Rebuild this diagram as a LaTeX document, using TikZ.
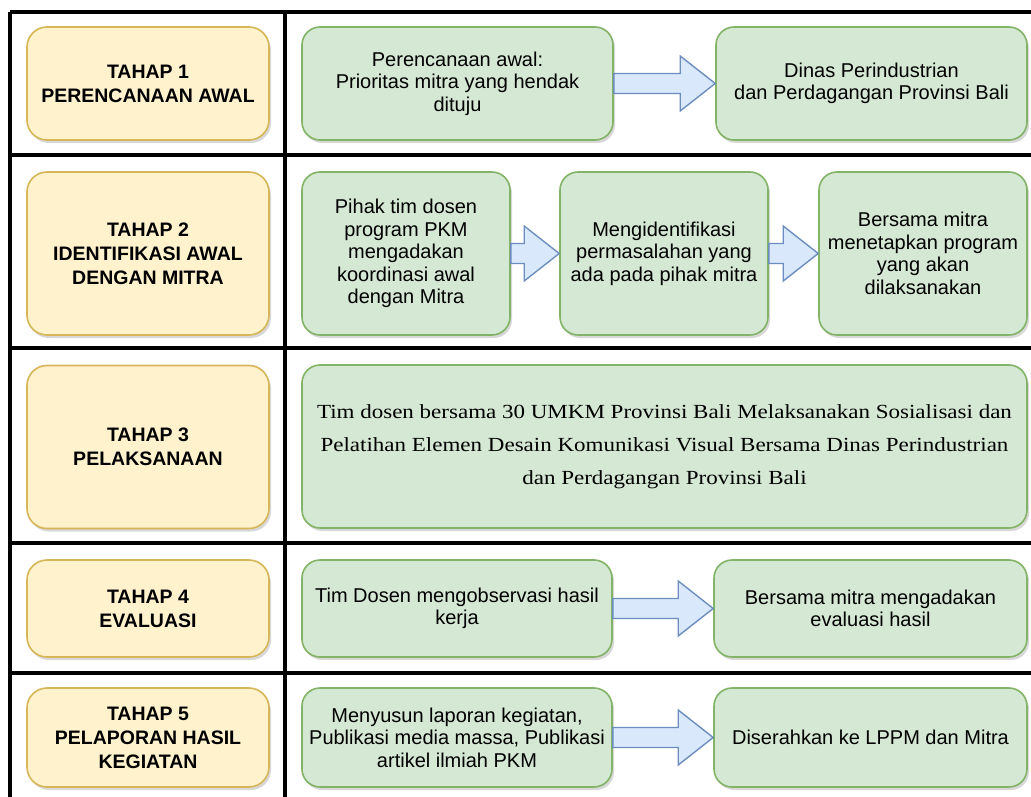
\documentclass[tikz,border=0pt]{standalone}
\usepackage{fontspec}
\setmainfont{Liberation Sans}
\newfontfamily\wideserif[FakeStretch=1.15]{Liberation Serif}
\usetikzlibrary{calc,shadows}
\definecolor{ylwfill}{HTML}{FFF2CC}
\definecolor{ylwline}{HTML}{D6B656}
\definecolor{grnfill}{HTML}{D5E8D4}
\definecolor{grnline}{HTML}{82B366}
\definecolor{blufill}{HTML}{DAE8FC}
\definecolor{bluline}{HTML}{6C8EBF}
\tikzset{
  grid/.style={line width=3.2pt, black},
  shad/.style={drop shadow={opacity=0.25, shadow xshift=2pt, shadow yshift=-3pt, fill=black!60}},
  stagebox/.style={rectangle, rounded corners=20pt, draw=ylwline, fill=ylwfill, line width=1.6pt,
     shad, align=center, font=\fontsize{19.5}{24}\selectfont\bfseries, inner sep=2pt},
  actbox/.style={rectangle, rounded corners=18pt, draw=grnline, fill=grnfill, line width=1.6pt,
     shad, align=center, font=\fontsize{20}{22.5}\selectfont, inner sep=2pt},
  bigarr/.style={draw=bluline, fill=blufill, line width=1.4pt, line join=miter},
}
% arrow from east of #1 to west of #2
\newcommand\fatarrow[2]{%
  \draw[bigarr] let \p1=(#1.east), \p2=(#2.west) in
    (\x1,\y1+10pt) -- (\x2-35pt,\y1+10pt) -- (\x2-35pt,\y1+27.5pt) -- (\x2,\y1)
    -- (\x2-35pt,\y1-27.5pt) -- (\x2-35pt,\y1-10pt) -- (\x1,\y1-10pt) -- cycle;}
\begin{document}
\begin{tikzpicture}[x=1pt,y=-1pt]
\useasboundingbox (0,0) rectangle (1031,797);
\fill[white] (0,0) rectangle (1031,797);
% grid
\draw[grid] (10,12) -- (1031,12);
\draw[grid] (10,155) -- (1031,155);
\draw[grid] (10,348) -- (1031,348);
\draw[grid] (10,543) -- (1031,543);
\draw[grid] (10,673) -- (1031,673);
\draw[grid] (10,12) -- (10,797);
\draw[grid] (285,12) -- (285,797);
% stage boxes
\node[stagebox, minimum width=242pt, minimum height=113pt] (t1) at (148,83.5) {TAHAP 1\\PERENCANAAN AWAL};
\node[stagebox, minimum width=242pt, minimum height=163pt] (t2) at (148,253.5) {TAHAP 2\\IDENTIFIKASI AWAL\\DENGAN MITRA};
\node[stagebox, minimum width=242pt, minimum height=163pt] (t3) at (148,447) {TAHAP 3\\PELAKSANAAN};
\node[stagebox, minimum width=242pt, minimum height=97pt] (t4) at (148,608.5) {TAHAP 4\\EVALUASI};
\node[stagebox, minimum width=242pt, minimum height=99pt] (t5) at (148,737.5) {TAHAP 5\\PELAPORAN HASIL\\KEGIATAN};
% row 1
\node[actbox, minimum width=311pt, minimum height=113pt] (a1) at (457.5,83.5) {Perencanaan awal:\\Prioritas mitra yang hendak\\dituju};
\node[actbox, minimum width=311pt, minimum height=113pt] (b1) at (871.5,83.5) {Dinas Perindustrian\\dan Perdagangan Provinsi Bali};
\fatarrow{a1}{b1}
% row 2
\node[actbox, minimum width=208pt, minimum height=163pt] (a2) at (406,253.5) {Pihak tim dosen\\program PKM\\mengadakan\\koordinasi awal\\dengan Mitra};
\node[actbox, minimum width=208pt, minimum height=163pt] (b2) at (664,253.5) {Mengidentifikasi\\permasalahan yang\\ada pada pihak mitra};
\node[actbox, minimum width=208pt, minimum height=163pt] (c2) at (923,253.5) {Bersama mitra\\menetapkan program\\yang akan\\dilaksanakan};
\fatarrow{a2}{b2}
\fatarrow{b2}{c2}
% row 3
\node[actbox, minimum width=725pt, minimum height=163pt, font=\wideserif\fontsize{20}{33}\selectfont] (a3) at (664.5,446.5)
  {Tim dosen bersama 30 UMKM Provinsi Bali Melaksanakan Sosialisasi dan\\Pelatihan Elemen Desain Komunikasi Visual Bersama Dinas Perindustrian\\dan Perdagangan Provinsi Bali};
% row 4
\node[actbox, minimum width=310pt, minimum height=97pt] (a4) at (457,608.5) {Tim Dosen mengobservasi hasil\\kerja};
\node[actbox, minimum width=313pt, minimum height=97pt] (b4) at (870.5,608.5) {Bersama mitra mengadakan\\evaluasi hasil};
\fatarrow{a4}{b4}
% row 5
\node[actbox, minimum width=310pt, minimum height=99pt] (a5) at (457,737.5) {Menyusun laporan kegiatan,\\Publikasi media massa, Publikasi\\artikel ilmiah PKM};
\node[actbox, minimum width=313pt, minimum height=99pt] (b5) at (870.5,737.5) {Diserahkan ke LPPM dan Mitra};
\fatarrow{a5}{b5}
\end{tikzpicture}
\end{document}
